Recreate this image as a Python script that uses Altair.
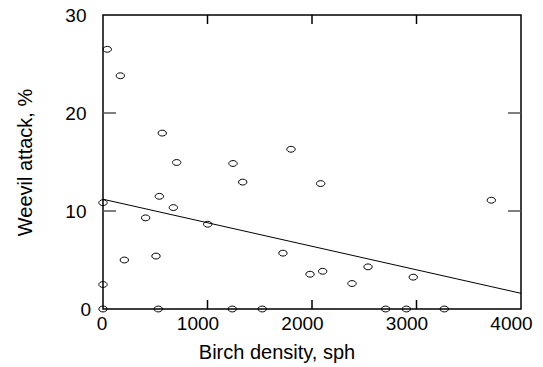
import altair as alt
import pandas as pd

# Data
birch_density = [0, 0, 0, 41, 166, 204, 408, 507, 529, 539, 567, 673, 705, 1002,
                 1237, 1244, 1337, 1524, 1722, 1799, 1981, 2083, 2102, 2383, 2536,
                 2705, 2903, 2969, 3266, 3716]
weevil_attack = [0, 2.5, 10.85, 26.5, 23.8, 5.0, 9.3, 5.4, 0, 11.5, 17.95, 10.35,
                 14.95, 8.65, 0, 14.85, 12.95, 0, 5.7, 16.3, 3.55, 12.8, 3.85, 2.6,
                 4.3, 0, 0, 3.25, 0, 11.1]

fit_x = [0, 4000]
fit_y = [11.2, 1.6]

x_ticks = [0, 1000, 2000, 3000, 4000]
y_ticks = [0, 10, 20, 30]
x_inner_ticks = [1000, 2000, 3000]
y_inner_ticks = [10, 20]

W, H = 418, 294
FONT = "Liberation Sans"

pts = pd.DataFrame({"x": birch_density, "y": weevil_attack})
fit = pd.DataFrame({"x": fit_x, "y": fit_y})
xt = pd.DataFrame({"x": x_inner_ticks})
yt = pd.DataFrame({"y": y_inner_ticks})

xscale = alt.Scale(domain=[0, 4000], nice=False, zero=False)
yscale = alt.Scale(domain=[0, 30], nice=False, zero=False)

xaxis = alt.Axis(
    values=x_ticks, ticks=False, grid=False, domain=False, format="d",
    labelFont=FONT, labelFontSize=19, labelColor="black", labelPadding=5,
    labelOffset={"condition": {"test": "datum.value == 0", "value": -1.5}, "value": -10},
    labelFlush=False,
    title="Birch density, sph", titleFont=FONT, titleFontSize=20,
    titleFontWeight="normal", titleColor="black",
    titleX=173.5, titleY=49, titleAlign="center", titleBaseline="alphabetic",
)
yaxis = alt.Axis(
    values=y_ticks, ticks=False, grid=False, domain=False,
    labelFont=FONT, labelFontSize=19, labelColor="black",
    labelPadding={"condition": {"test": "datum.value == 0", "value": 12.5}, "value": 17},
    labelFlush=False,
    title="Weevil attack, %", titleFont=FONT, titleFontSize=20,
    titleFontWeight="normal", titleColor="black",
    titleX=-78, titleY=147, titleAngle=270, titleAlign="center", titleBaseline="middle",
)

ellipse = ("M-1,0C-1,-0.39,-0.55,-0.7,0,-0.7C0.55,-0.7,1,-0.39,1,0"
           "C1,0.39,0.55,0.7,0,0.7C-0.55,0.7,-1,0.39,-1,0Z")

points = alt.Chart(pts).mark_point(
    shape=ellipse, size=70, filled=False, color="black", strokeWidth=1, opacity=1
).encode(
    x=alt.X("x:Q", scale=xscale, axis=xaxis),
    y=alt.Y("y:Q", scale=yscale, axis=yaxis),
)

line = alt.Chart(fit).mark_line(color="black", strokeWidth=1).encode(
    x=alt.X("x:Q", scale=xscale), y=alt.Y("y:Q", scale=yscale)
)

bottom_ticks = alt.Chart(xt).mark_rule(color="black", strokeWidth=1.5).encode(
    x=alt.X("x:Q", scale=xscale), y=alt.value(H), y2=alt.value(H - 9)
)
top_ticks = alt.Chart(xt).mark_rule(color="black", strokeWidth=1.5).encode(
    x=alt.X("x:Q", scale=xscale), y=alt.value(0), y2=alt.value(9)
)
left_ticks = alt.Chart(yt).mark_rule(color="#555555", strokeWidth=1.5).encode(
    y=alt.Y("y:Q", scale=yscale), x=alt.value(0), x2=alt.value(13)
)
right_ticks = alt.Chart(yt).mark_rule(color="#555555", strokeWidth=1.5).encode(
    y=alt.Y("y:Q", scale=yscale), x=alt.value(W), x2=alt.value(W - 13)
)

chart = alt.layer(
    bottom_ticks, top_ticks, left_ticks, right_ticks, line, points
).properties(
    width=W, height=H,
    autosize=alt.AutoSizeParams(type="none"),
    padding={"left": 103, "top": 15, "right": 22, "bottom": 58},
    background="white",
).configure_view(stroke="black", strokeWidth=1.5)

chart.save("out.html", embed_options={"renderer": "svg", "actions": False})
